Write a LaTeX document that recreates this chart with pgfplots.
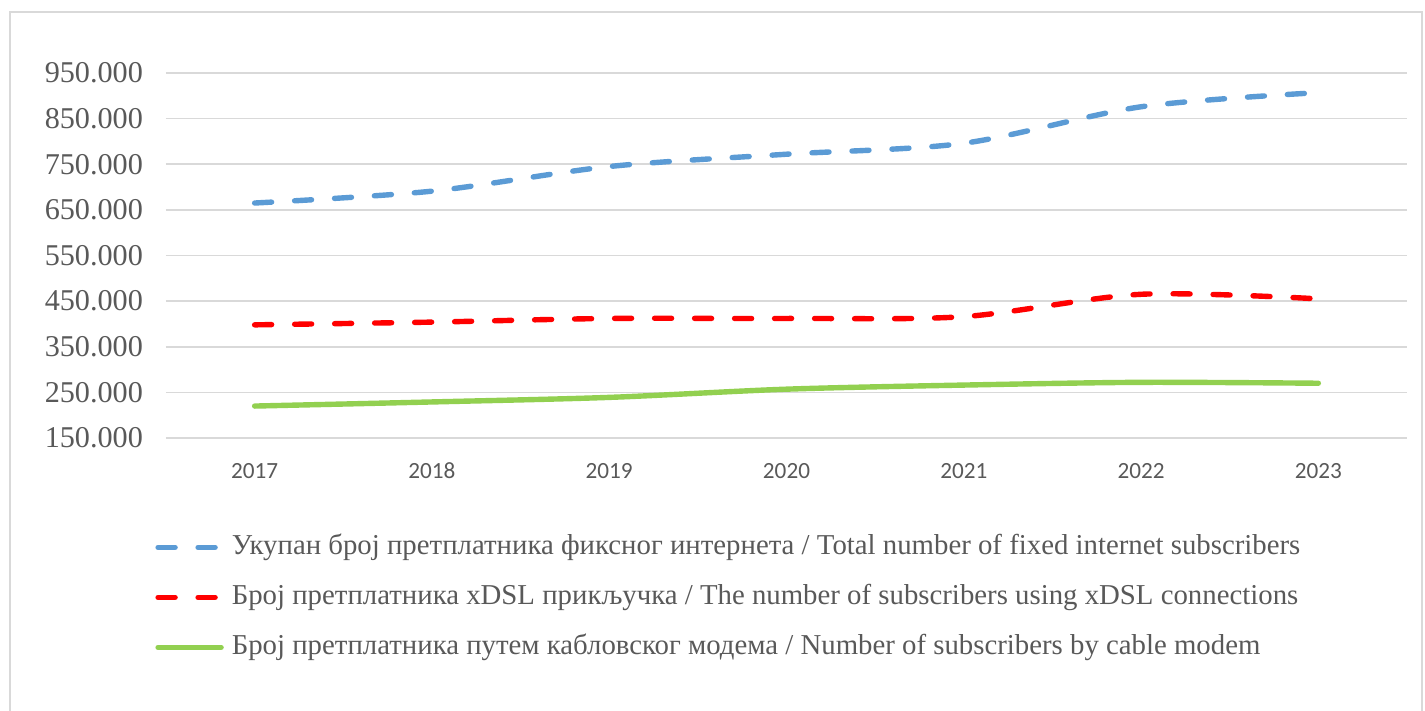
\documentclass[border=0pt]{standalone}
\usepackage{pgfplots}
\pgfplotsset{compat=1.18}
\usepackage{fontspec}
\setmainfont{Liberation Serif}
\newfontfamily\carlito{Carlito}
\definecolor{txt}{HTML}{595959}
\definecolor{cblue}{HTML}{5B9BD5}
\definecolor{cred}{HTML}{FF0000}
\definecolor{cgreen}{HTML}{92D050}
\definecolor{grd}{HTML}{D9D9D9}
\begin{document}
\begin{tikzpicture}[x=1pt,y=1pt]
\useasboundingbox (0,0) rectangle (712.5,355.5);
\draw[color=grd, line width=0.75pt] (5,-10) rectangle (711,349.5);
\begin{axis}[
  at={(83pt,136.5pt)}, anchor=south west,
  scale only axis, width=620.5pt, height=182.5pt,
  xmin=-0.5, xmax=6.5, ymin=150000, ymax=950000,
  scaled y ticks=false,
  xtick={0,1,2,3,4,5,6},
  xticklabels={2017,2018,2019,2020,2021,2022,2023},
  ytick={150000,250000,350000,450000,550000,650000,750000,850000,950000},
  yticklabels={150.000,250.000,350.000,450.000,550.000,650.000,750.000,850.000,950.000},
  axis line style={draw=none},
  major tick length=0pt,
  ymajorgrids, grid style={color=grd, line width=0.8pt},
  xticklabel style={font=\carlito\fontsize{11.6}{13}\selectfont, text=txt, yshift=-9pt},
  yticklabel style={font=\fontsize{15.1}{17}\selectfont, text=txt, xshift=-8pt},
  clip=false,
  legend style={at={(-0.00886,-0.263)}, anchor=north west, draw=none, fill=none,
    inner sep=0pt, font=\fontsize{14.4}{16}\selectfont, text=txt,
    nodes={inner sep=0pt, text height=10pt, text depth=3pt}, row sep=12pt,
    /tikz/every odd column/.append style={column sep=4pt}},
  legend cell align=left,
  legend image code/.code={\draw[#1] (0pt,0pt) -- (31.5pt,0pt);},
]
\addplot[cblue, line width=2.7pt, line cap=round, dash pattern=on 8.5pt off 11.5pt, smooth, tension=0.5]
  coordinates {(0,665000) (1,691000) (2,745000) (3,772000) (4,796000) (5,876000) (6,907000)};
\addlegendentry{Укупан број претплатника фиксног интернета / Total number of fixed internet subscribers}
\addplot[cred, line width=2.7pt, line cap=round, dash pattern=on 8.5pt off 11.5pt, smooth, tension=0.5]
  coordinates {(0,398000) (1,404000) (2,412000) (3,412000) (4,416000) (5,465000) (6,455000)};
\addlegendentry{Број претплатника xDSL прикључка / The number of subscribers using xDSL connections}
\addplot[cgreen, line width=2.7pt, line cap=round, smooth, tension=0.5]
  coordinates {(0,220000) (1,229000) (2,239000) (3,257000) (4,266000) (5,272000) (6,270000)};
\addlegendentry{Број претплатника путем кабловског модема / Number of subscribers by cable modem}
\end{axis}
\end{tikzpicture}
\end{document}
